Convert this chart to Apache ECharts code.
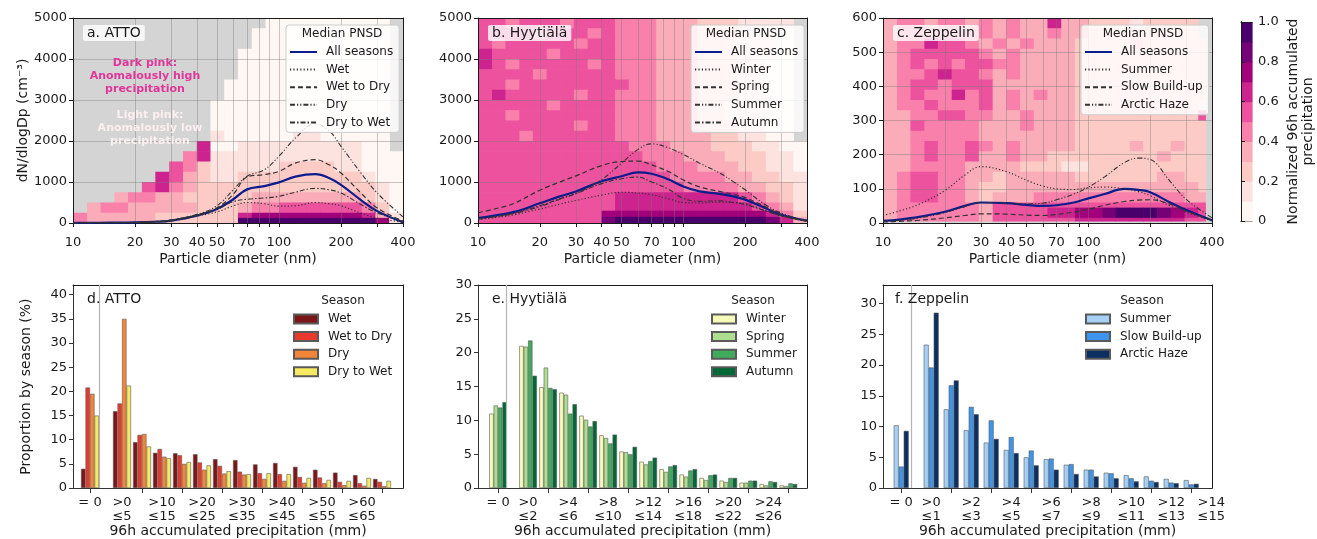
<!DOCTYPE html>
<html>
<head>
<meta charset="utf-8">
<title>PNSD vs 96h accumulated precipitation</title>
<script src="https://cdn.jsdelivr.net/npm/echarts@6/dist/echarts.min.js"></script>
<style>
  html, body { margin: 0; padding: 0; background: #fff; }
  #chart { width: 1317px; height: 539px; }
</style>
</head>
<body>
<div id="chart"></div>
<script>
// ---------- top row: median PNSD curves (diameter nm, dN/dlogDp cm^-3)
const diameters = [10, 12, 15, 20, 25, 30, 40, 50, 60, 70, 85, 100, 120, 150, 175, 200, 250, 300, 400];

const attoAll = [5, 5, 8, 15, 30, 60, 180, 340, 580, 820, 900, 990, 1130, 1190, 1100, 930, 560, 290, 20];
const attoWet = [3, 3, 5, 12, 25, 50, 170, 270, 420, 500, 470, 410, 420, 500, 470, 420, 240, 120, 20];
const attoWetToDry = [5, 5, 8, 15, 35, 70, 200, 370, 700, 1120, 1180, 1260, 1460, 1545, 1420, 1220, 730, 365, 50];
const attoDry = [5, 5, 8, 15, 35, 70, 210, 420, 810, 1140, 1300, 1630, 2070, 2420, 2250, 1870, 1220, 730, 150];
const attoDryToWet = [3, 4, 6, 13, 28, 60, 190, 340, 520, 580, 610, 650, 750, 845, 810, 730, 450, 245, 40];

const hyyAll = [120, 180, 270, 480, 650, 770, 1020, 1140, 1235, 1200, 1060, 890, 770, 710, 650, 570, 365, 200, 57];
const hyyWinter = [90, 130, 200, 340, 460, 550, 680, 750, 730, 690, 590, 500, 490, 510, 500, 470, 310, 170, 40];
const hyySpring = [250, 340, 480, 800, 1000, 1150, 1400, 1500, 1510, 1420, 1250, 1050, 880, 770, 700, 620, 400, 200, 50];
const hyySummer = [100, 150, 230, 400, 580, 720, 1060, 1460, 1790, 1930, 1830, 1670, 1460, 1220, 1010, 810, 450, 240, 50];
const hyyAutumn = [100, 150, 240, 420, 590, 720, 960, 1080, 1120, 1000, 820, 600, 530, 540, 500, 450, 300, 170, 40];

const zepAll = [6, 10, 18, 33, 50, 60, 58, 53, 50, 52, 60, 72, 85, 100, 97, 90, 60, 38, 8];
const zepSummer = [22, 35, 55, 95, 140, 165, 150, 125, 108, 100, 98, 103, 105, 100, 92, 80, 50, 32, 6];
const zepSlowBuildUp = [3, 5, 8, 15, 22, 27, 26, 23, 22, 25, 32, 40, 52, 63, 67, 68, 55, 35, 8];
const zepArcticHaze = [5, 8, 15, 30, 48, 60, 58, 56, 58, 68, 85, 105, 135, 177, 190, 186, 122, 69, 15];

// ---------- top row: normalized precipitation grids
// bin edges; each row string is one y bin (top row first), one char per x bin:
// digit k = value in [k/10, (k+1)/10), '.' = no data
const sizeBinEdges = [10, 11.7, 13.6, 15.9, 18.5, 21.6, 25.1, 29.3, 34.2, 39.9, 46.5, 54.2, 63.2, 73.8, 86, 100, 117, 136, 159, 185, 216, 252, 294, 343, 400];
const zepSizeBinEdges = [10, 11.7, 13.6, 15.9, 18.5, 21.6, 25.1, 29.3, 34.2, 39.9, 46.5, 54.2, 63.2, 73.8, 86, 100, 117, 136, 159, 185, 216, 252, 294, 343, 371];

const attoConcEdges = [0, 125, 250, 500, 750, 1000, 1250, 1500, 1750, 2000, 2250, 2500, 2750, 3000, 3250, 3500, 3750, 4000, 4250, 4500, 4750, 5000];
const attoGrid = [
  '.... .... .... ..00 0000 000.',
  '.... .... .... .000 0000 000.',
  '.... .... .... .000 0000 000.',
  '.... .... .... 0000 0000 000.',
  '.... .... .... 0000 0000 000.',
  '.... .... .... 0000 0000 000.',
  '.... .... ...0 0000 0000 000.',
  '.... .... ...0 0000 0000 000.',
  '.... .... ..00 0000 0000 000.',
  '.... .... ..00 0000 0000 000.',
  '.... .... ..00 0000 0000 000.',
  '.... .... ..10 0000 1100 000.',
  '.... .... .600 1111 1111 100.',
  '.... .... 4611 1111 1111 1000',
  '.... ...5 4211 1112 2221 1000',
  '.... ..65 3211 2222 2222 2100',
  '.... .564 3222 2222 2222 2210',
  '...3 4433 2222 2333 3333 3210',
  '.344 3333 3222 3445 5555 5420',
  '4333 3322 2222 6777 7777 7631',
  '4333 3322 2222 9999 9999 9971'
];

const hyyConcEdges = [0, 150, 300, 500, 750, 1000, 1250, 1500, 1750, 2000, 2250, 2500, 2750, 3000, 3250, 3500, 3750, 4000, 4250, 4500, 4750, 5000];
const hyyGrid = [
  '5545 5545 5544 4333 2221 111.',
  '5555 4555 4544 4333 2221 110.',
  '5455 5554 5544 4333 2221 110.',
  '6555 5455 5544 4333 2221 110.',
  '6545 5555 4544 4333 2221 100.',
  '5555 4555 5544 4333 2221 100.',
  '5545 5555 5554 4333 2221 100.',
  '5655 5554 5544 4333 2221 100.',
  '5555 5455 5544 4333 2211 100.',
  '5545 5555 5544 4333 2211 100.',
  '5555 5554 5544 4333 2221 100.',
  '5554 5555 5544 4333 3221 100.',
  '5555 5555 5554 4433 3222 1100',
  '5555 5555 5555 4443 3322 2110',
  '5555 5555 5555 5444 3332 2110',
  '5555 5555 5555 5544 4433 2211',
  '5555 5555 5555 5554 4443 3221',
  '5555 5555 5566 6666 6665 4321',
  '5555 5555 5566 6666 6666 5431',
  '5555 5555 5777 7777 7777 7642',
  '5555 5555 5899 9999 9999 9863'
];

const zepConcEdges = [6, 15, 45, 60, 90, 120, 150, 180, 210, 240, 270, 300, 330, 360, 390, 420, 450, 480, 510, 540, 570, 600];
const zepGrid = [
  '3443 4434 3433 6332 2212 222.',
  '3444 4444 3433 4332 2222 222.',
  '3446 5543 4343 3322 2232 2222',
  '3455 5554 3433 3322 2222 2222',
  '3454 5455 4433 3322 2222 2222',
  '3445 6554 3433 3322 2222 2222',
  '3455 4555 3333 3322 2222 2222',
  '3454 4645 3434 3322 2222 2222',
  '3445 4445 3433 3322 2222 2221',
  '3344 5544 3343 3322 2222 2225',
  '3354 4443 3343 3322 2222 2222',
  '3344 4443 3333 3322 2222 2222',
  '3345 4454 3433 3322 2232 2322',
  '3345 4453 3433 2222 2222 3222',
  '3344 4433 3322 2112 2222 2222',
  '3455 4433 2333 3322 2222 3322',
  '3455 4432 2333 3333 3333 3332',
  '3455 4432 3334 4444 4444 4433',
  '3444 4443 5555 5555 5555 5555',
  '3444 4443 5555 6677 8999 8765',
  '3444 4443 5555 5566 6666 6655'
];

const colorbarBounds = [0, 0.1, 0.2, 0.3, 0.4, 0.5, 0.6, 0.7, 0.8, 0.9, 1.0];
const colorbarTicks = [0, 0.2, 0.4, 0.6, 0.8, 1.0];

// ---------- bottom row: proportion by season (%) per 96h precipitation bin
const attoPos = [-1.6, 0, 1, 2, 3, 4, 5, 6, 7, 8, 9, 10, 11, 12, 13];
const attoBins = ['= 0', '>0\n≤5', '>5\n≤10', '>10\n≤15', '>15\n≤20', '>20\n≤25', '>25\n≤30', '>30\n≤35', '>35\n≤40', '>40\n≤45', '>45\n≤50', '>50\n≤55', '>55\n≤60', '>60\n≤65', '>65\n≤70'];
const attoWetPct = [4.0, 15.9, 9.5, 7.3, 7.2, 7.0, 6.0, 5.8, 4.9, 5.2, 4.4, 3.8, 3.2, 2.7, 1.9];
const attoWetToDryPct = [20.8, 17.5, 11.0, 8.1, 6.8, 5.3, 4.6, 3.4, 3.1, 2.9, 2.3, 2.2, 1.3, 1.0, 1.3];
const attoDryPct = [19.5, 35.0, 11.2, 6.5, 5.0, 3.8, 3.0, 2.8, 1.9, 1.5, 1.1, 1.0, 0.6, 0.5, 0.4];
const attoDryToWetPct = [15.0, 21.2, 8.6, 6.2, 5.4, 4.7, 3.5, 2.9, 3.1, 2.9, 2.1, 1.7, 1.5, 2.1, 1.5];

const hyyPos = [-1.5, 0, 1, 2, 3, 4, 5, 6, 7, 8, 9, 10, 11, 12, 13];
const hyyBins = ['= 0', '>0\n≤2', '>2\n≤4', '>4\n≤6', '>6\n≤8', '>8\n≤10', '>10\n≤12', '>12\n≤14', '>14\n≤16', '>16\n≤18', '>18\n≤20', '>20\n≤22', '>22\n≤24', '>24\n≤26', '>26\n≤28'];
const hyyWinterPct = [11.0, 21.0, 14.9, 14.1, 10.7, 7.8, 5.4, 3.9, 2.8, 2.0, 1.5, 1.1, 0.8, 0.6, 0.4];
const hyySpringPct = [12.2, 20.9, 17.8, 13.8, 10.1, 7.4, 5.3, 3.5, 2.4, 1.7, 1.2, 0.9, 0.8, 0.4, 0.3];
const hyySummerPct = [11.9, 21.8, 14.8, 11.0, 9.1, 6.6, 5.0, 4.0, 3.2, 2.6, 1.9, 1.5, 1.1, 1.0, 0.7];
const hyyAutumnPct = [12.7, 16.6, 14.6, 12.4, 9.9, 7.9, 6.1, 4.5, 3.4, 2.8, 2.0, 1.5, 1.1, 0.9, 0.6];

const zepPos = [-1.5, 0, 1, 2, 3, 4, 5, 6, 7, 8, 9, 10, 11, 12, 13, 14];
const zepBins = ['= 0', '>0\n≤1', '>1\n≤2', '>2\n≤3', '>3\n≤4', '>4\n≤5', '>5\n≤6', '>6\n≤7', '>7\n≤8', '>8\n≤9', '>9\n≤10', '>10\n≤11', '>11\n≤12', '>12\n≤13', '>13\n≤14', '>14\n≤15'];
const zepSummerPct = [10.2, 23.3, 12.8, 9.4, 7.4, 6.2, 5.0, 4.7, 3.8, 3.0, 2.5, 2.1, 1.9, 1.5, 1.3];
const zepSlowPct = [3.5, 19.6, 16.7, 13.2, 11.0, 8.3, 6.1, 4.8, 3.9, 3.0, 2.4, 1.6, 1.2, 0.9, 0.6];
const zepHazePct = [9.3, 28.5, 17.5, 12.0, 8.0, 5.7, 3.7, 3.0, 2.3, 1.9, 1.6, 1.1, 1.0, 0.8, 0.7];

// ---------- styling
const FONT = 'DejaVu Sans';
const INK = '#1a1a1a';
const PALETTE = ['#fff7f3', '#fde3df', '#fccbc5', '#faacb8', '#f880aa', '#ec529d', '#cd238f', '#a2017c', '#740176', '#49006a'];
const DOT = [1.2, 2.2];
const DASH = [5, 3];
const DASH_DOT_DOT = [5, 2, 1.2, 2, 1.2, 2];
const DASH_DOT = [5, 2, 1.5, 2];
const NAVY = '#0c1c8c';
const CURVE = '#333';

const tickDiameters = [10, 20, 30, 40, 50, 60, 70, 80, 90, 100, 200, 300, 400];
const labelDiameters = [10, 20, 30, 40, 50, 70, 100, 200, 400];

const chart = echarts.init(document.getElementById('chart'));

function cellsFrom(rows, xEdges, yEdges) {
  const out = [];
  const n = rows.length;
  rows.forEach((row, r) => {
    const chars = row.replace(/ /g, '');
    const j = n - 1 - r;
    for (let i = 0; i < chars.length && i < xEdges.length - 1; i++) {
      if (chars[i] === '.') continue;
      out.push([Math.log10(xEdges[i]), Math.log10(xEdges[i + 1]), yEdges[j], yEdges[j + 1], (Number(chars[i]) + 0.5) / 10]);
    }
  });
  return out;
}

function renderCell(params, api) {
  const p0 = api.coord([api.value(0), api.value(3)]);
  const p1 = api.coord([api.value(1), api.value(2)]);
  return {
    type: 'rect',
    shape: { x: p0[0], y: p0[1], width: p1[0] - p0[0] + 0.6, height: p1[1] - p0[1] + 0.6 },
    style: { fill: api.visual('color') }
  };
}

function cellSeries(data, idx) {
  return {
    type: 'custom', xAxisIndex: idx, yAxisIndex: idx, renderItem: renderCell,
    data, clip: true, z: 1, silent: true,
    encode: { x: [0, 1], y: [2, 3] }
  };
}

function curve(name, values, idx, color, type, width) {
  return {
    type: 'line', name, xAxisIndex: idx, yAxisIndex: idx, color,
    data: diameters.map((d, k) => [Math.log10(d), values[k]]),
    smooth: 0.4, symbol: 'none', z: 5, silent: true,
    itemStyle: { opacity: 0 },
    lineStyle: { color, type, width }
  };
}

function bars(name, values, pos, idx, color, gap) {
  return {
    type: 'bar', name, xAxisIndex: idx, yAxisIndex: idx,
    data: values.map((v, k) => [pos[k], v]),
    barGap: '0%', barCategoryGap: gap, silent: true,
    itemStyle: { color, borderColor: '#5a5a5a', borderWidth: 0.6 }
  };
}

function gapLine(x) {
  return {
    silent: true, symbol: 'none', label: { show: false },
    lineStyle: { color: '#b5b5b5', width: 1.2, type: 'solid' },
    data: [{ xAxis: x }]
  };
}

const labelStyle = { color: INK, fontSize: 13, fontFamily: FONT };
const nameStyle = { color: INK, fontSize: 14, fontFamily: FONT };

function sizeAxis(idx) {
  return {
    type: 'value', gridIndex: idx, min: 1, max: Math.log10(400), z: 3,
    axisLine: { onZero: false, lineStyle: { color: INK, width: 1 } },
    axisTick: { customValues: tickDiameters.map(Math.log10), length: 4, lineStyle: { color: INK } },
    axisLabel: Object.assign({ customValues: labelDiameters.map(Math.log10), margin: 13,
      formatter: v => String(Math.round(Math.pow(10, v))) }, labelStyle),
    splitLine: { show: true, lineStyle: { color: 'rgba(120,120,120,0.4)', width: 1 } },
    name: 'Particle diameter (nm)', nameLocation: 'middle', nameGap: 29, nameTextStyle: nameStyle
  };
}

function concAxis(idx, max, step, name) {
  const ticks = [];
  for (let v = 0; v <= max; v += step) ticks.push(v);
  return {
    type: 'value', gridIndex: idx, min: 0, max, z: 3,
    axisLine: { show: true, onZero: false, lineStyle: { color: INK, width: 1 } },
    axisTick: { show: true, customValues: ticks, length: 4, lineStyle: { color: INK } },
    axisLabel: Object.assign({ customValues: ticks, margin: 6, formatter: v => String(v) }, labelStyle),
    splitLine: { show: true, lineStyle: { color: 'rgba(120,120,120,0.4)', width: 1 } },
    name: name || '', nameLocation: 'middle', nameGap: 40, nameTextStyle: nameStyle
  };
}

function precipAxis(idx, pos, bins, min, max) {
  const labelVals = pos.filter((p, k) => k === 0 || p % 2 === 0);
  const tickVals = pos.filter((p, k) => k === 0 || Math.abs(p % 2) === 1);
  return {
    type: 'value', gridIndex: idx, min, max, z: 3,
    axisLine: { onZero: false, lineStyle: { color: '#333', width: 1 } },
    axisTick: { customValues: tickVals, length: 5, lineStyle: { color: '#333' } },
    axisLabel: Object.assign({ customValues: labelVals, margin: 8, lineHeight: 13.5,
      formatter: v => { const k = pos.findIndex(p => Math.abs(p - v) < 1e-6); return k < 0 ? '' : bins[k]; } }, labelStyle),
    splitLine: { show: false },
    name: '96h accumulated precipitation (mm)', nameLocation: 'middle', nameGap: 35, nameTextStyle: nameStyle
  };
}

function pctAxis(idx, max, top, name) {
  const ticks = [];
  for (let v = 0; v <= top; v += 5) ticks.push(v);
  return {
    type: 'value', gridIndex: idx, min: 0, max, z: 3,
    axisLine: { show: true, onZero: false, lineStyle: { color: '#333', width: 1 } },
    axisTick: { show: true, customValues: ticks, length: 4, lineStyle: { color: '#333' } },
    axisLabel: Object.assign({ customValues: ticks, margin: 6, formatter: v => String(v) }, labelStyle),
    splitLine: { show: false },
    name: name || '', nameLocation: 'middle', nameGap: 40, nameTextStyle: nameStyle
  };
}

function frameX(idx) {
  return { type: 'value', gridIndex: idx, position: 'top', min: 0, max: 1, z: 4,
    axisLine: { onZero: false, lineStyle: { color: INK, width: 1 } },
    axisTick: { show: false }, axisLabel: { show: false }, splitLine: { show: false } };
}
function frameY(idx, pos) {
  return { type: 'value', gridIndex: idx, position: pos || 'right', min: 0, max: 1, z: 4,
    axisLine: { show: true, onZero: false, lineStyle: { color: INK, width: 1 } },
    axisTick: { show: false }, axisLabel: { show: false }, splitLine: { show: false } };
}

function curveLegend(left, names) {
  return {
    orient: 'vertical', left, top: 25, padding: [20, 6, 3, 3], itemGap: 3.6,
    itemWidth: 27, itemHeight: 10, selectedMode: false,
    itemStyle: { opacity: 0 },
    backgroundColor: 'rgba(255,255,255,0.82)', borderColor: '#cccccc', borderWidth: 1, borderRadius: 3,
    textStyle: { color: INK, fontSize: 12, lineHeight: 14, fontFamily: FONT, padding: [0, 0, 0, 4] },
    formatter: n => n.slice(2), data: names, z: 8
  };
}
function barLegend(left, names) {
  return {
    orient: 'vertical', left, top: 312, padding: 0, itemGap: 3.6, icon: 'rect',
    itemWidth: 24, itemHeight: 9, selectedMode: false,
    textStyle: { color: INK, fontSize: 12, lineHeight: 14, fontFamily: FONT, padding: [0, 0, 0, 5] },
    formatter: n => n.slice(2), data: names
  };
}

function text(x, y, str, opts) {
  return { type: 'text', x, y, z: 20, silent: true,
    style: Object.assign({ text: str, fill: INK, fontSize: 14, fontFamily: FONT }, opts || {}) };
}
function centered(x, y, str, size) {
  return text(x, y, str, { fontSize: size, align: 'center', verticalAlign: 'middle' });
}
function tag(x, y, str) {
  return text(x, y, str, { backgroundColor: 'rgba(255,255,255,0.8)', padding: [1, 4, 1, 4], borderRadius: 2 });
}

const colorbarCells = colorbarBounds.slice(0, -1).map((lo, k) => [0, 1, lo, colorbarBounds[k + 1], (lo + colorbarBounds[k + 1]) / 2]);

const grids = [
  { left: 73, top: 18, width: 330, height: 205, backgroundColor: '#d4d4d4' },
  { left: 478, top: 18, width: 329, height: 205, backgroundColor: '#d4d4d4' },
  { left: 883, top: 18, width: 329, height: 205, backgroundColor: '#d4d4d4' },
  { left: 73, top: 285, width: 330, height: 206, backgroundColor: '#ffffff' },
  { left: 478, top: 285, width: 329, height: 206, backgroundColor: '#ffffff' },
  { left: 883, top: 285, width: 329, height: 206, backgroundColor: '#ffffff' },
  { left: 1241, top: 22, width: 15, height: 199, backgroundColor: '#ffffff' }
];

const xAxes = [
  sizeAxis(0), sizeAxis(1), sizeAxis(2),
  precipAxis(3, attoPos, attoBins, -2.45, 14.05),
  precipAxis(4, hyyPos, hyyBins, -2.5, 13.93),
  precipAxis(5, zepPos, zepBins, -2.41, 14.04),
  { type: 'value', gridIndex: 6, min: 0, max: 1, axisLine: { onZero: false, lineStyle: { color: INK } },
    axisTick: { show: false }, axisLabel: { show: false }, splitLine: { show: false } }
].concat([0, 1, 2, 3, 4, 5, 6].map(frameX));

const yAxes = [
  concAxis(0, 5000, 1000, 'dN/dlogDp (cm⁻³)'),
  concAxis(1, 5000, 1000),
  concAxis(2, 600, 100),
  pctAxis(3, 42, 40, 'Proportion by season (%)'),
  pctAxis(4, 30, 30),
  pctAxis(5, 33, 30),
  { type: 'value', gridIndex: 6, position: 'right', min: 0, max: 1, z: 3,
    axisLine: { show: true, lineStyle: { color: INK } },
    axisTick: { show: true, customValues: colorbarTicks, length: 4, lineStyle: { color: INK } },
    axisLabel: Object.assign({ customValues: colorbarTicks, margin: 6,
      formatter: v => (v === 0 ? '0' : v.toFixed(1)) }, labelStyle),
    splitLine: { show: false },
    name: 'Normalized 96h accumulated\nprecipitation', nameLocation: 'middle', nameRotate: 90, nameGap: 34,
    nameTextStyle: Object.assign({ lineHeight: 15 }, nameStyle) }
].concat([0, 1, 2, 3, 4, 5].map(i => frameY(i))).concat([frameY(6, 'left')]);

const series = [
  cellSeries(cellsFrom(attoGrid, sizeBinEdges, attoConcEdges), 0),
  cellSeries(cellsFrom(hyyGrid, sizeBinEdges, hyyConcEdges), 1),
  cellSeries(cellsFrom(zepGrid, zepSizeBinEdges, zepConcEdges), 2),
  Object.assign(cellSeries(colorbarCells, 6), { clip: false }),

  curve('a:All seasons', attoAll, 0, NAVY, 'solid', 2.2),
  curve('a:Wet', attoWet, 0, CURVE, DOT, 1.2),
  curve('a:Wet to Dry', attoWetToDry, 0, CURVE, DASH, 1.2),
  curve('a:Dry', attoDry, 0, CURVE, DASH_DOT_DOT, 1.1),
  curve('a:Dry to Wet', attoDryToWet, 0, CURVE, DASH_DOT, 1.1),

  curve('b:All seasons', hyyAll, 1, NAVY, 'solid', 2.2),
  curve('b:Winter', hyyWinter, 1, CURVE, DOT, 1.2),
  curve('b:Spring', hyySpring, 1, CURVE, DASH, 1.2),
  curve('b:Summer', hyySummer, 1, CURVE, DASH_DOT_DOT, 1.1),
  curve('b:Autumn', hyyAutumn, 1, CURVE, DASH_DOT, 1.1),

  curve('c:All seasons', zepAll, 2, NAVY, 'solid', 2.2),
  curve('c:Summer', zepSummer, 2, CURVE, DOT, 1.2),
  curve('c:Slow Build-up', zepSlowBuildUp, 2, CURVE, DASH, 1.2),
  curve('c:Arctic Haze', zepArcticHaze, 2, CURVE, DASH_DOT_DOT, 1.1),

  Object.assign(bars('d:Wet', attoWetPct, attoPos, 3, '#7b1518', '10%'), { markLine: gapLine(-0.8) }),
  bars('d:Wet to Dry', attoWetToDryPct, attoPos, 3, '#e8392c', '10%'),
  bars('d:Dry', attoDryPct, attoPos, 3, '#f3853a', '10%'),
  bars('d:Dry to Wet', attoDryToWetPct, attoPos, 3, '#f6ea62', '10%'),

  Object.assign(bars('e:Winter', hyyWinterPct, hyyPos, 4, '#f7fcb9', '12%'), { markLine: gapLine(-0.77) }),
  bars('e:Spring', hyySpringPct, hyyPos, 4, '#addd8e', '12%'),
  bars('e:Summer', hyySummerPct, hyyPos, 4, '#41ab5d', '12%'),
  bars('e:Autumn', hyyAutumnPct, hyyPos, 4, '#006837', '12%'),

  Object.assign(bars('f:Summer', zepSummerPct, zepPos, 5, '#a6d0f5', '25%'), { markLine: gapLine(-0.74) }),
  bars('f:Slow Build-up', zepSlowPct, zepPos, 5, '#3d95ed', '25%'),
  bars('f:Arctic Haze', zepHazePct, zepPos, 5, '#0b2f60', '25%')
];

const option = {
  animation: false,
  backgroundColor: '#ffffff',
  textStyle: { fontFamily: FONT },
  grid: grids.map(g => Object.assign({ show: true, borderWidth: 0, containLabel: false }, g)),
  xAxis: xAxes,
  yAxis: yAxes,
  visualMap: {
    type: 'piecewise', show: false, dimension: 4, seriesIndex: [0, 1, 2, 3],
    pieces: PALETTE.map((c, k) => (k === 9 ? { gte: 0.9, lte: 1, color: c } : { gte: k / 10, lt: (k + 1) / 10, color: c }))
  },
  legend: [
    curveLegend(286, ['a:All seasons', 'a:Wet', 'a:Wet to Dry', 'a:Dry', 'a:Dry to Wet']),
    curveLegend(691, ['b:All seasons', 'b:Winter', 'b:Spring', 'b:Summer', 'b:Autumn']),
    curveLegend(1081, ['c:All seasons', 'c:Summer', 'c:Slow Build-up', 'c:Arctic Haze']),
    barLegend(293, ['d:Wet', 'd:Wet to Dry', 'd:Dry', 'd:Dry to Wet']),
    barLegend(711, ['e:Winter', 'e:Spring', 'e:Summer', 'e:Autumn']),
    barLegend(1085, ['f:Summer', 'f:Slow Build-up', 'f:Arctic Haze'])
  ],
  graphic: [
    tag(83, 25, 'a. ATTO'),
    tag(488, 25, 'b. Hyytiälä'),
    tag(893, 25, 'c. Zeppelin'),
    text(87, 292, 'd. ATTO'),
    text(492, 292, 'e. Hyytiälä'),
    text(895, 292, 'f. Zeppelin'),
    centered(342, 34, 'Median PNSD', 12),
    centered(746, 34, 'Median PNSD', 12),
    centered(1143, 34, 'Median PNSD', 12),
    centered(343, 301, 'Season', 12),
    centered(753, 301, 'Season', 12),
    centered(1142, 301, 'Season', 12),
    text(145, 76, 'Dark pink:\nAnomalously high\nprecipitation',
      { fontSize: 11, fontWeight: 'bold', fill: '#e0369a', align: 'center', verticalAlign: 'middle', lineHeight: 13 }),
    text(150, 128, 'Light pink:\nAnomalously low\nprecipitation',
      { fontSize: 11, fontWeight: 'bold', fill: '#fbefef', align: 'center', verticalAlign: 'middle', lineHeight: 13 })
  ],
  series
};

chart.setOption(option);
window.addEventListener('resize', () => chart.resize());
</script>
</body>
</html>
